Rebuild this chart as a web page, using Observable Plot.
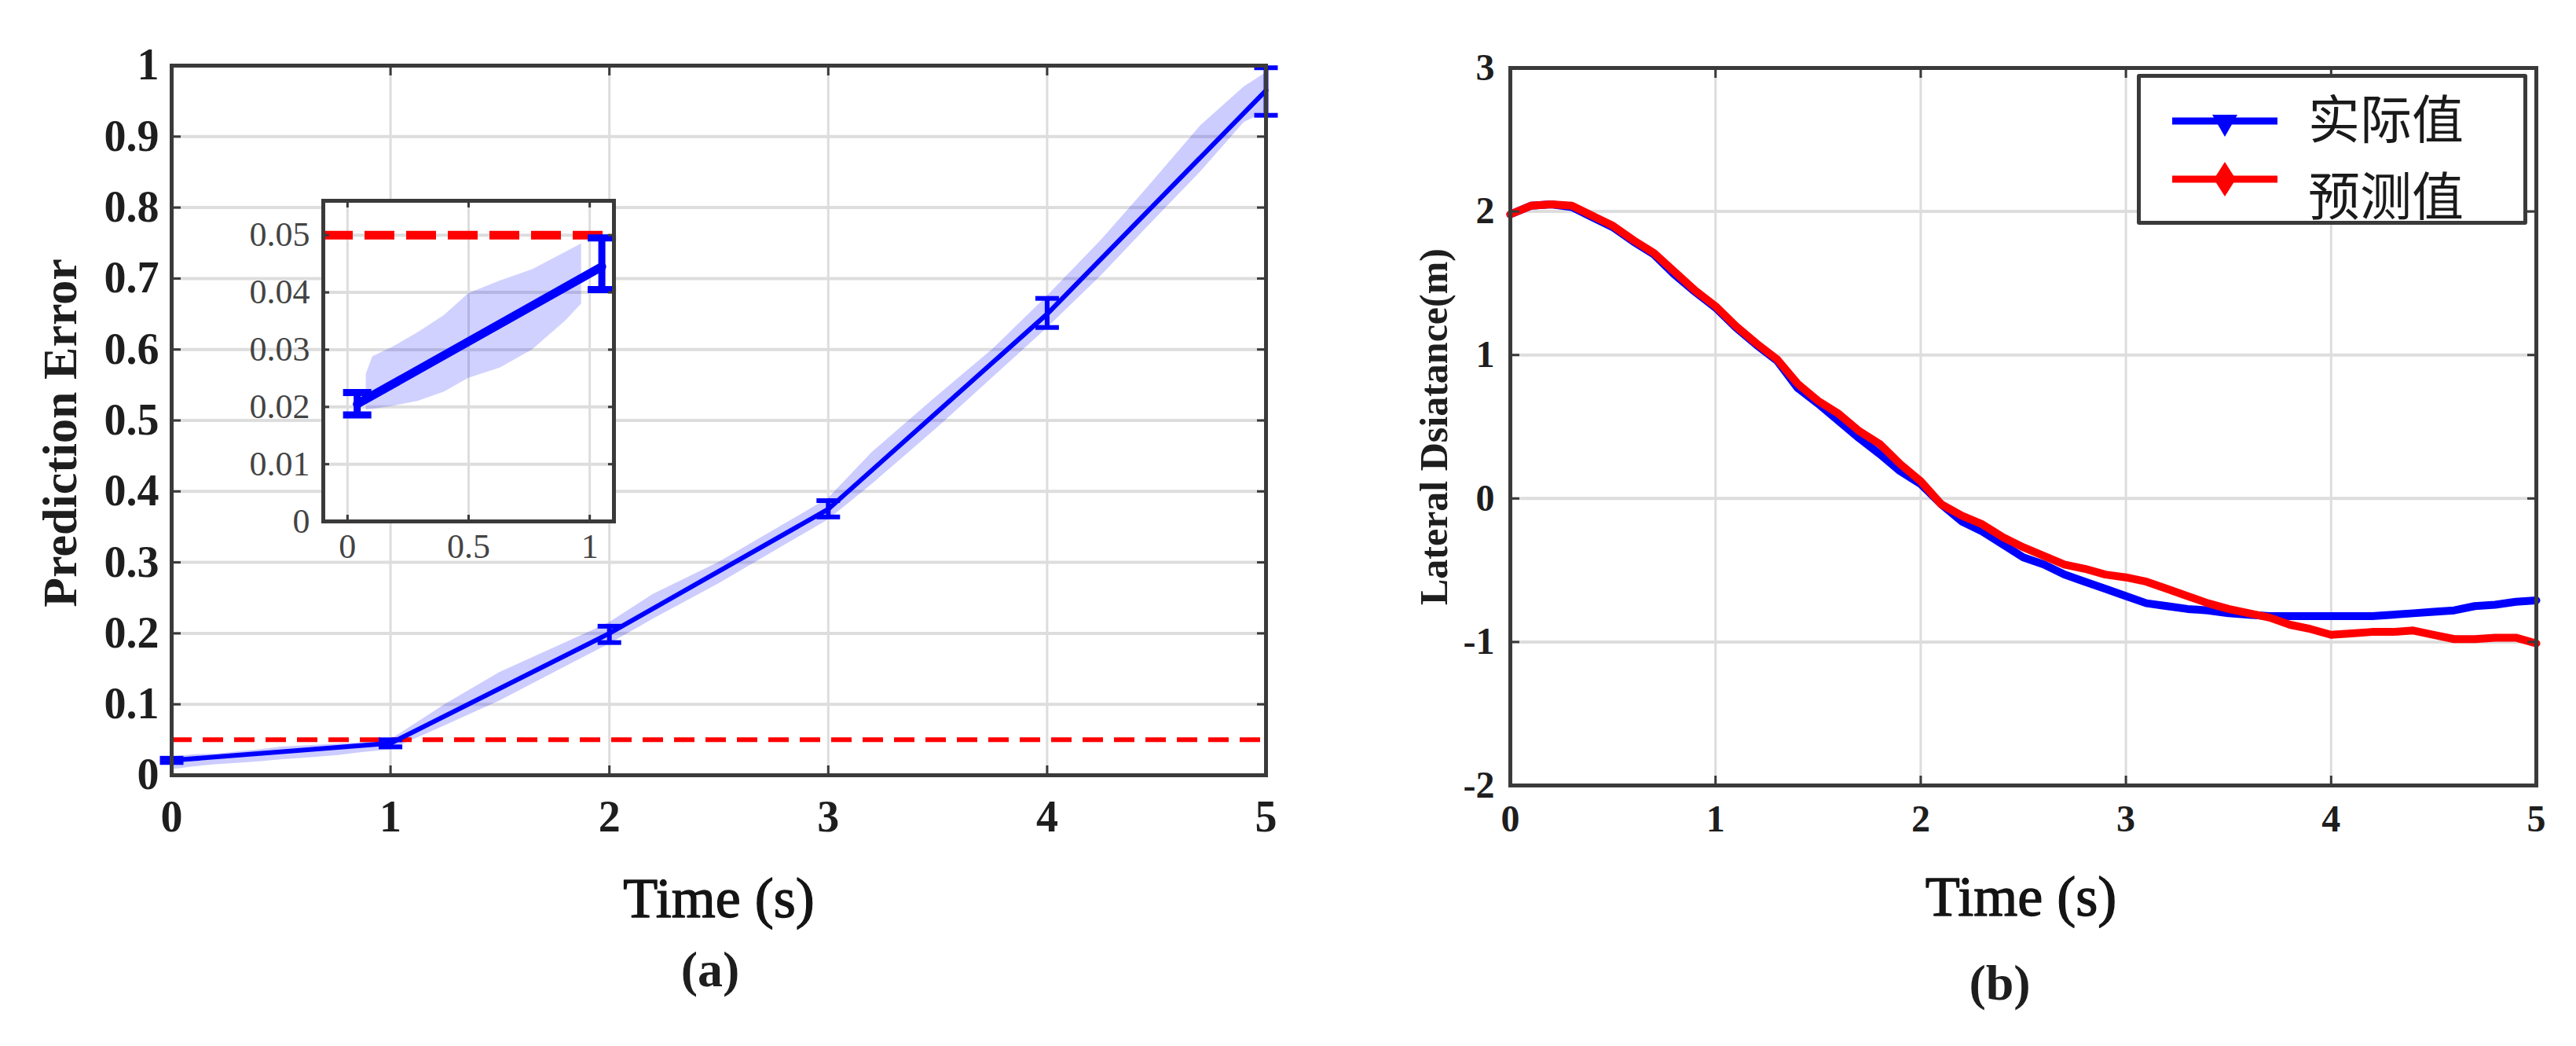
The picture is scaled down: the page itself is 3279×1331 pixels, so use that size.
<!DOCTYPE html>
<html>
<head>
<meta charset="utf-8">
<script src="https://cdn.jsdelivr.net/npm/d3@7"></script>
<script src="https://cdn.jsdelivr.net/npm/@observablehq/plot@0.6"></script>
<style>
html, body { margin: 0; padding: 0; background: #fff; }
#root { position: relative; width: 3279px; height: 1331px; overflow: hidden; background: #fff; }
#root > svg { position: absolute; }
.legend { position: absolute; box-sizing: border-box; background: #fff; border: 5px solid #3a3a3a; border-radius: 3px; }
.legend-text { position: absolute; font-family: "Noto Sans CJK SC", sans-serif; font-size: 66px; line-height: 1; color: #1a1a1a; white-space: nowrap; }
</style>
</head>
<body>
<div id="root"></div>
<script>
// ---------- Panel (a): prediction error ----------
const errT    = [0, 1, 2, 3, 4, 5];
const errMean = [0.021, 0.045, 0.200, 0.375, 0.650, 0.965];
const errLo   = [0.018, 0.040, 0.187, 0.364, 0.631, 0.930];
const errHi   = [0.024, 0.050, 0.210, 0.387, 0.672, 0.997];

const bandT  = [0, 0.1, 0.2, 0.3, 0.4, 0.5, 0.64, 0.76, 0.87, 1.0, 1.25, 1.5, 1.75, 2.0, 2.2, 2.5, 2.75, 3.0, 3.2, 3.5, 3.75, 4.0, 4.25, 4.45, 4.7, 4.9, 5.0];
const bandLo = [0.008, 0.012, 0.015, 0.017, 0.019, 0.022, 0.025, 0.028, 0.032, 0.036, 0.070, 0.105, 0.145, 0.185, 0.220, 0.270, 0.315, 0.360, 0.410, 0.490, 0.560, 0.630, 0.705, 0.770, 0.850, 0.920, 0.935];
const bandHi = [0.026, 0.029, 0.030, 0.033, 0.036, 0.040, 0.042, 0.044, 0.046, 0.050, 0.100, 0.145, 0.180, 0.215, 0.255, 0.300, 0.345, 0.390, 0.455, 0.535, 0.600, 0.675, 0.755, 0.825, 0.915, 0.970, 0.990];

const threshold = 0.05;
const xTicksA = [0, 1, 2, 3, 4, 5];
const yTicksA = [0, 0.1, 0.2, 0.3, 0.4, 0.5, 0.6, 0.7, 0.8, 0.9, 1];

// inset of panel (a)
const insetT    = [0.04, 1.05];
const insetMean = [0.0205, 0.0445];
const insetLo   = [0.0186, 0.0405];
const insetHi   = [0.0225, 0.0495];
const insetBandT  = [0.077, 0.104, 0.185, 0.292, 0.40, 0.50, 0.63, 0.764, 0.90, 0.966];
const insetBandLo = [0.0195, 0.0196, 0.0201, 0.0210, 0.0226, 0.0250, 0.0268, 0.0300, 0.0350, 0.0380];
const insetBandHi = [0.0257, 0.0288, 0.0304, 0.0330, 0.0360, 0.0398, 0.0420, 0.0440, 0.0470, 0.0485];
const insetXTicks = [0, 0.5, 1];
const insetYTicks = [0, 0.01, 0.02, 0.03, 0.04, 0.05];

// ---------- Panel (b): lateral distance ----------
const latT = [0, 0.1, 0.2, 0.3, 0.4, 0.5, 0.6, 0.7, 0.8, 0.9,
              1.0, 1.1, 1.2, 1.3, 1.4, 1.5, 1.6, 1.7, 1.8, 1.9,
              2.0, 2.1, 2.2, 2.3, 2.4, 2.5, 2.6, 2.7, 2.8, 2.9,
              3.0, 3.1, 3.2, 3.3, 3.4, 3.5, 3.6, 3.7, 3.8, 3.9,
              4.0, 4.1, 4.2, 4.3, 4.4, 4.5, 4.6, 4.7, 4.8, 4.9, 5.0];
const actual = [1.98, 2.04, 2.05, 2.03, 1.96, 1.89, 1.79, 1.70, 1.56, 1.44,
                1.33, 1.19, 1.07, 0.96, 0.77, 0.66, 0.54, 0.42, 0.31, 0.19,
                0.10, -0.04, -0.16, -0.23, -0.32, -0.41, -0.46, -0.53, -0.58, -0.63,
                -0.68, -0.73, -0.75, -0.77, -0.78, -0.80, -0.81, -0.82, -0.82, -0.82,
                -0.82, -0.82, -0.82, -0.81, -0.80, -0.79, -0.78, -0.75, -0.74, -0.72, -0.71];
const predicted = [1.98, 2.04, 2.05, 2.04, 1.97, 1.90, 1.80, 1.71, 1.58, 1.45,
                   1.34, 1.20, 1.08, 0.97, 0.80, 0.68, 0.59, 0.47, 0.38, 0.24,
                   0.12, -0.04, -0.12, -0.18, -0.27, -0.34, -0.40, -0.46, -0.49, -0.53,
                   -0.55, -0.58, -0.63, -0.68, -0.73, -0.77, -0.80, -0.83, -0.88, -0.91,
                   -0.95, -0.94, -0.93, -0.93, -0.92, -0.95, -0.98, -0.98, -0.97, -0.97, -1.01];
const xTicksB = [0, 1, 2, 3, 4, 5];
const yTicksB = [-2, -1, 0, 1, 2, 3];
const seriesNames = ["实际值", "预测值"];

// ---------- tables ----------
const errRows = errT.map((t, i) => ({t, mean: errMean[i], lo: errLo[i], hi: errHi[i]}));
const bandRows = bandT.map((t, i) => ({t, lo: bandLo[i], hi: bandHi[i]}));
const insetRows = insetT.map((t, i) => ({t, mean: insetMean[i], lo: insetLo[i], hi: insetHi[i]}));
const insetBandRows = insetBandT.map((t, i) => ({t, lo: insetBandLo[i], hi: insetBandHi[i]}));
const latRows = latT.map((t, i) => ({t, actual: actual[i], predicted: predicted[i]}));

const BLUE = "#0000ff", RED = "#ff0000", GRID = "#dddddd", FRAME = "#3a3a3a";
const SERIF = "'Liberation Serif', 'Times New Roman', serif";
const fmt = d => String(d);
const capSymbol = {draw(ctx, size) { const w = Math.sqrt(size / Math.PI); ctx.moveTo(-w, 0); ctx.lineTo(w, 0); }};

const root = document.getElementById("root");

function inwardTicks(xt, yt, len, sw) {
  return [
    Plot.axisX(xt, {anchor: "bottom", tickSize: -len, text: null, label: null, stroke: FRAME, strokeWidth: sw}),
    Plot.axisX(xt, {anchor: "top", tickSize: -len, text: null, label: null, stroke: FRAME, strokeWidth: sw}),
    Plot.axisY(yt, {anchor: "left", tickSize: -len, text: null, label: null, stroke: FRAME, strokeWidth: sw}),
    Plot.axisY(yt, {anchor: "right", tickSize: -len, text: null, label: null, stroke: FRAME, strokeWidth: sw})
  ];
}

// ---------- Panel (a) main ----------
const plotA = Plot.plot({
  width: 1700, height: 1331,
  marginLeft: 218, marginRight: 89, marginTop: 83, marginBottom: 345,
  style: {fontFamily: SERIF, background: "transparent", overflow: "visible", color: "#1e1e1e"},
  x: {domain: [0, 5]},
  y: {domain: [0, 1]},
  marks: [
    Plot.gridX(xTicksA, {stroke: GRID, strokeOpacity: 1, strokeWidth: 3}),
    Plot.gridY(yTicksA, {stroke: GRID, strokeOpacity: 1, strokeWidth: 4}),
    Plot.areaY(bandRows, {x: "t", y1: "lo", y2: "hi", fill: BLUE, fillOpacity: 0.2, curve: "linear"}),
    Plot.ruleY([threshold], {stroke: RED, strokeWidth: 6, strokeDasharray: "26,14"}),
    Plot.line(errRows, {x: "t", y: "mean", stroke: BLUE, strokeWidth: 6}),
    Plot.ruleX(errRows, {x: "t", y1: "lo", y2: "hi", stroke: BLUE, strokeWidth: 6}),
    Plot.dot(errRows, {x: "t", y: "lo", symbol: capSymbol, r: 15, stroke: BLUE, strokeWidth: 6, fill: "none"}),
    Plot.dot(errRows, {x: "t", y: "hi", symbol: capSymbol, r: 15, stroke: BLUE, strokeWidth: 6, fill: "none"}),
    ...inwardTicks(xTicksA, yTicksA, 12, 3),
    Plot.axisX(xTicksA, {anchor: "bottom", tickSize: 0, tickPadding: 32, label: null, tickFormat: fmt, fontSize: 56, fontWeight: "bold", fontFamily: SERIF}),
    Plot.axisY(yTicksA, {anchor: "left", tickSize: 0, tickPadding: 16, label: null, tickFormat: fmt, fontSize: 56, fontWeight: "bold", fontFamily: SERIF}),
    Plot.frame({stroke: FRAME, strokeWidth: 5}),
    Plot.text(["Prediction Error"], {text: d => d, frameAnchor: "left", textAnchor: "middle", dx: -141, dy: 16, rotate: -90, fontSize: 62, fontWeight: "bold", fontFamily: SERIF, letterSpacing: "2px", fill: "#1e1e1e"}),
    Plot.text(["Time (s)"], {text: d => d, frameAnchor: "bottom", dy: 180, fontSize: 72, fontFamily: SERIF, letterSpacing: "4px", fill: "#141414", stroke: "#141414", strokeWidth: 1.4}),
    Plot.text(["(a)"], {text: d => d, frameAnchor: "bottom", dx: -11, dy: 268, fontSize: 64, fontWeight: "bold", fontFamily: SERIF, fill: "#1e1e1e"})
  ]
});
plotA.style.left = "0px"; plotA.style.top = "0px";
root.appendChild(plotA);

// ---------- Panel (a) inset ----------
const plotInset = Plot.plot({
  width: 480, height: 498,
  marginLeft: 100, marginRight: 10, marginTop: 10, marginBottom: 80,
  style: {fontFamily: SERIF, background: "transparent", overflow: "visible", color: "#444"},
  x: {domain: [-0.1, 1.1]},
  y: {domain: [0, 0.056]},
  marks: [
    Plot.frame({fill: "#fff", stroke: null}),
    Plot.gridX(insetXTicks, {stroke: GRID, strokeOpacity: 1, strokeWidth: 3}),
    Plot.gridY(insetYTicks, {stroke: GRID, strokeOpacity: 1, strokeWidth: 4}),
    Plot.areaY(insetBandRows, {x: "t", y1: "lo", y2: "hi", fill: BLUE, fillOpacity: 0.18, curve: "linear"}),
    Plot.ruleY([threshold], {stroke: RED, strokeWidth: 11, strokeDasharray: "38,15"}),
    Plot.line(insetRows, {x: "t", y: "mean", stroke: BLUE, strokeWidth: 11}),
    Plot.ruleX(insetRows, {x: "t", y1: "lo", y2: "hi", stroke: BLUE, strokeWidth: 9}),
    Plot.dot(insetRows, {x: "t", y: "lo", symbol: capSymbol, r: 18, stroke: BLUE, strokeWidth: 9, fill: "none"}),
    Plot.dot(insetRows, {x: "t", y: "hi", symbol: capSymbol, r: 18, stroke: BLUE, strokeWidth: 9, fill: "none"}),
    ...inwardTicks(insetXTicks, insetYTicks, 8, 3),
    Plot.axisX(insetXTicks, {anchor: "bottom", tickSize: 0, tickPadding: 15, label: null, tickFormat: fmt, fontSize: 44, fontFamily: SERIF, fill: "#444"}),
    Plot.axisY(insetYTicks, {anchor: "left", tickSize: 0, tickPadding: 17, label: null, tickFormat: fmt, fontSize: 44, fontFamily: SERIF, fill: "#444"}),
    Plot.frame({stroke: FRAME, strokeWidth: 5})
  ]
});
plotInset.style.left = "311px"; plotInset.style.top = "245px";
root.appendChild(plotInset);

// ---------- Panel (b) ----------
const plotB = Plot.plot({
  width: 1579, height: 1331,
  marginLeft: 222, marginRight: 51, marginTop: 86, marginBottom: 332,
  style: {fontFamily: SERIF, background: "transparent", overflow: "visible", color: "#1e1e1e"},
  x: {domain: [0, 5]},
  y: {domain: [-2, 3]},
  marks: [
    Plot.gridX(xTicksB, {stroke: GRID, strokeOpacity: 1, strokeWidth: 3}),
    Plot.gridY(yTicksB, {stroke: GRID, strokeOpacity: 1, strokeWidth: 4}),
    Plot.line(latRows, {x: "t", y: "actual", stroke: BLUE, strokeWidth: 10, strokeLinejoin: "round"}),
    Plot.line(latRows, {x: "t", y: "predicted", stroke: RED, strokeWidth: 10, strokeLinejoin: "round"}),
    ...inwardTicks(xTicksB, yTicksB, 12, 3),
    Plot.axisX(xTicksB, {anchor: "bottom", tickSize: 0, tickPadding: 24, label: null, tickFormat: fmt, fontSize: 48, fontWeight: "bold", fontFamily: SERIF}),
    Plot.axisY(yTicksB, {anchor: "left", tickSize: 0, tickPadding: 20, label: null, tickFormat: fmt, fontSize: 48, fontWeight: "bold", fontFamily: SERIF}),
    Plot.frame({stroke: FRAME, strokeWidth: 5}),
    Plot.text(["Lateral Dsiatance(m)"], {text: d => d, frameAnchor: "left", textAnchor: "middle", dx: -97, rotate: -90, fontSize: 50, fontWeight: "bold", fontFamily: SERIF, fill: "#1e1e1e"}),
    Plot.text(["Time (s)"], {text: d => d, frameAnchor: "bottom", dx: -3, dy: 165, fontSize: 72, fontFamily: SERIF, letterSpacing: "4px", fill: "#141414", stroke: "#141414", strokeWidth: 1.4}),
    Plot.text(["(b)"], {text: d => d, frameAnchor: "bottom", dx: -30, dy: 272, fontSize: 64, fontWeight: "bold", fontFamily: SERIF, fill: "#1e1e1e"})
  ]
});
plotB.style.left = "1700px"; plotB.style.top = "0px";
root.appendChild(plotB);

// ---------- Legend of panel (b) ----------
const legend = document.createElement("div");
legend.className = "legend";
legend.style.left = "2720px"; legend.style.top = "94px";
legend.style.width = "497px"; legend.style.height = "192px";
root.appendChild(legend);
const lsvg = d3.select(legend).append("svg")
  .attr("width", 487).attr("height", 182)
  .style("position", "absolute").style("left", "0px").style("top", "0px");
const legendItems = [
  {name: seriesNames[0], color: BLUE, cy: 55, marker: "tri", top: 114},
  {name: seriesNames[1], color: RED, cy: 129, marker: "dia", top: 212}
];
legendItems.forEach(it => {
  lsvg.append("line").attr("x1", 40).attr("x2", 174).attr("y1", it.cy).attr("y2", it.cy)
    .attr("stroke", it.color).attr("stroke-width", 9);
  const cx = 107;
  if (it.marker === "tri") {
    lsvg.append("path").attr("d", `M${cx - 16},${it.cy - 8}L${cx + 16},${it.cy - 8}L${cx},${it.cy + 20}Z`).attr("fill", it.color);
  } else {
    lsvg.append("path").attr("d", `M${cx},${it.cy - 22}L${cx + 14},${it.cy}L${cx},${it.cy + 22}L${cx - 14},${it.cy}Z`).attr("fill", it.color);
  }
});
legendItems.forEach(it => {
  const t = document.createElement("div");
  t.className = "legend-text";
  t.textContent = it.name;
  t.style.left = "2938px";
  t.style.top = it.top + "px";
  root.appendChild(t);
});
</script>
</body>
</html>
